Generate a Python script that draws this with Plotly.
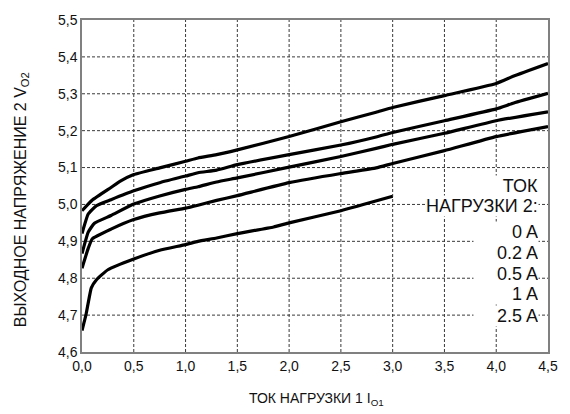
import plotly.graph_objects as go

# Load current I_O1 (A) and output voltage V_O2 (V) for each I_O2 setting
x_0a = [0.0, 0.1, 0.28, 0.37, 0.5, 0.75, 1.0, 1.12, 1.3, 1.5, 2.0, 2.5, 2.84, 3.0, 3.5, 4.0, 4.17, 4.5]
y_0a = [4.983, 5.012, 5.046, 5.063, 5.081, 5.099, 5.117, 5.126, 5.135, 5.148, 5.184, 5.224, 5.25,
        5.263, 5.295, 5.328, 5.348, 5.382]

x_02a = [0.0, 0.06, 0.14, 0.28, 0.5, 0.75, 1.0, 1.12, 1.3, 1.5, 2.0, 2.5, 2.84, 3.0, 3.5, 4.0, 4.17, 4.5]
y_02a = [4.921, 4.974, 4.997, 5.013, 5.037, 5.059, 5.077, 5.086, 5.093, 5.108, 5.135, 5.161, 5.183,
         5.195, 5.227, 5.259, 5.275, 5.301]

x_05a = [0.0, 0.06, 0.12, 0.28, 0.5, 0.75, 1.0, 1.12, 1.3, 1.5, 2.0, 2.5, 2.84, 3.0, 3.5, 4.0, 4.5]
y_05a = [4.867, 4.925, 4.949, 4.97, 5.001, 5.023, 5.041, 5.048, 5.061, 5.072, 5.101, 5.13, 5.152,
         5.163, 5.193, 5.227, 5.251]

x_1a = [0.0, 0.06, 0.1, 0.28, 0.5, 0.75, 1.0, 1.12, 1.3, 1.5, 2.0, 2.5, 2.84, 3.0, 3.5, 4.0, 4.5]
y_1a = [4.827, 4.881, 4.907, 4.933, 4.959, 4.977, 4.99, 4.998, 5.011, 5.024, 5.059, 5.084, 5.099,
        5.111, 5.146, 5.184, 5.211]

x_25a = [0.0, 0.04, 0.09, 0.14, 0.25, 0.5, 0.75, 1.0, 1.12, 1.3, 1.5, 1.85, 2.0, 2.5, 3.0]
y_25a = [4.658, 4.703, 4.774, 4.796, 4.823, 4.852, 4.876, 4.891, 4.9, 4.909, 4.921, 4.939, 4.95,
         4.983, 5.022]

# Axis ticks and their labels (decimal comma)
x_ticks = [0.0, 0.5, 1.0, 1.5, 2.0, 2.5, 3.0, 3.5, 4.0, 4.5]
x_tick_text = ["0,0", "0,5", "1,0", "1,5", "2,0", "2,5", "3,0", "3,5", "4,0", "4,5"]
y_ticks = [4.6, 4.7, 4.8, 4.9, 5.0, 5.1, 5.2, 5.3, 5.4, 5.5]
y_tick_text = ["4,6", "4,7", "4,8", "4,9", "5,0", "5,1", "5,2", "5,3", "5,4", "5,5"]

series = [(x_0a, y_0a), (x_02a, y_02a), (x_05a, y_05a), (x_1a, y_1a), (x_25a, y_25a)]
legend_lines = ["ТОК", "НАГРУЗКИ 2:", "0 A", "0.2 A", "0.5 A", "1 A", "2.5 A"]
legend_y = [184, 204, 230, 252, 273, 293, 315]
legend_box_w = [64, None, 64, 64, 64, 64, 64]

W, H = 570, 414
ML, MR, MT, MB = 82, 15, 15, 62
PW, PH = W - ML - MR, H - MT - MB
ink = "#111111"
font = "Liberation Sans, Arial, sans-serif"
x_rng = [x_ticks[0], x_ticks[-1]]
y_rng = [y_ticks[0], y_ticks[-1]]

fig = go.Figure()

# Dashed grid at every inner tick, one polyline broken by None gaps
gx, gy = [], []
for t in x_ticks[1:-1]:
    gx += [t, t, None]
    gy += [y_rng[0], y_rng[1], None]
for t in y_ticks[1:-1]:
    gx += [x_rng[0], x_rng[1], None]
    gy += [t, t, None]
fig.add_trace(go.Scatter(x=gx, y=gy, mode="lines", connectgaps=False,
                         line=dict(color="#3a3a3a", width=1, dash="3px,2px"),
                         showlegend=False, hoverinfo="skip"))

for xs, ys in series:
    fig.add_trace(go.Scatter(x=xs, y=ys, mode="lines",
                             line=dict(color="black", width=3.2, shape="spline", smoothing=0.4),
                             showlegend=False, hoverinfo="skip"))

axis_common = dict(
    showgrid=False, showline=True, linecolor="#808080", linewidth=1.5, mirror=True,
    zeroline=False, tickfont=dict(family=font, size=14, color=ink), tickmode="array",
)
fig.update_xaxes(range=x_rng, tickvals=x_ticks, ticktext=x_tick_text, **axis_common)
fig.update_yaxes(range=y_rng, tickvals=y_ticks, ticktext=y_tick_text, **axis_common)


def px_x(px):
    return (px - ML) / PW


def px_y(py):
    return 1 - (py - MT) / PH


ann = []
for txt, py, bw in zip(legend_lines, legend_y, legend_box_w):
    a = dict(text=txt, xref="paper", yref="paper", x=px_x(546), y=px_y(py),
             xanchor="right", yanchor="middle", align="right", showarrow=False, borderpad=0,
             bgcolor="white", font=dict(family=font, size=18, color=ink))
    if bw:
        a["width"] = bw
    ann.append(a)
ann.append(dict(text="ТОК НАГРУЗКИ 1 I<sub>O1</sub>", xref="paper", yref="paper",
                x=px_x(320), y=px_y(400), xanchor="center", yanchor="middle",
                showarrow=False, font=dict(family=font, size=14, color=ink)))
ann.append(dict(text="ВЫХОДНОЕ НАПРЯЖЕНИЕ 2 V<sub>O2</sub>", xref="paper", yref="paper",
                x=px_x(20), y=px_y(197), xanchor="center", yanchor="middle", textangle=-90,
                showarrow=False, font=dict(family=font, size=16, color=ink)))

fig.update_layout(
    width=W, height=H, margin=dict(l=ML, r=MR, t=MT, b=MB),
    paper_bgcolor="white", plot_bgcolor="white",
    annotations=ann,
)
fig.write_html("out.html")
